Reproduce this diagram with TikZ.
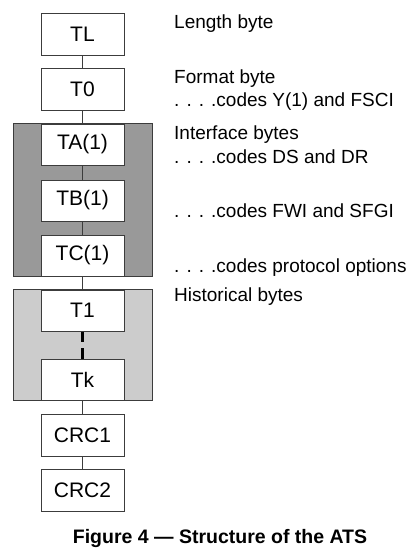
\documentclass[tikz,border=0pt]{standalone}
\usepackage{fontspec}
\setmainfont{Liberation Sans}
\usepackage{xcolor}
\usepackage{tikz}
\usetikzlibrary{calc, backgrounds}
\definecolor{darkband}{RGB}{153,153,153}
\definecolor{lightband}{RGB}{204,204,204}
\definecolor{edgegray}{RGB}{60,60,60}
\tikzset{
  bytebox/.style={draw=edgegray, fill=white, line width=0.9pt, minimum width=83pt, minimum height=42pt, inner sep=0pt, font=\fontsize{21}{21}\selectfont},
  note/.style={anchor=base west, inner sep=0pt, font=\fontsize{19}{19}\selectfont},
  link/.style={draw=edgegray, line width=0.9pt}
}

\begin{document}
\begin{tikzpicture}[x=1pt, y=-1pt]
    \useasboundingbox (0,0) rectangle (412,557);
    \node[bytebox] (TL) at (82.5,34) {TL};
    \node[bytebox] (T0) at (82.5,89.5) {T0};
    \node[bytebox, minimum height=41pt] (TA) at (82.5,144.5) {TA(1)};
    \node[bytebox, minimum height=41pt] (TB) at (82.5,200.5) {TB(1)};
    \node[bytebox, minimum height=41pt] (TC) at (82.5,255.5) {TC(1)};
    \node[bytebox, minimum height=41pt] (T1) at (82.5,310.5) {T1};
    \node[bytebox, minimum height=41pt] (Tk) at (82.5,379.5) {Tk};
    \node[bytebox] (CRC1) at (82.5,435) {CRC1};
    \node[bytebox] (CRC2) at (82.5,490) {CRC2};
    \begin{scope}[on background layer]
        \fill[white] (0,0) rectangle (412,557);
        \fill[darkband, draw=edgegray, line width=0.9pt] ($(TA.north west)+(-27,0)$) rectangle ($(TC.south east)+(28,0)$);
        \fill[lightband, draw=edgegray, line width=0.9pt] ($(T1.north west)+(-27,0)$) rectangle ($(Tk.south east)+(28,0)$);
        \draw[link] (TL) -- (T0);
        \draw[link] (T0) -- (TA);
        \draw[link] (TA) -- (TB);
        \draw[link] (TB) -- (TC);
        \draw[link] (TC) -- (T1);
        \draw[line width=2.5pt, dash pattern=on 11pt off 6pt] (T1.south) -- (Tk.north);
        \draw[link] (Tk) -- (CRC1);
        \draw[link] (CRC1) -- (CRC2);
    \end{scope}
    \node[note] (lenL) at (174,28) {Length byte};
    \node[note] (fmtL) at (174,83) {Format byte};
    \node[note] (fmtC) at (174,106) {. . . .codes Y(1) and FSCI};
    \node[note] (ifL) at (174,139) {Interface bytes};
    \node[note] (taC) at (174,163) {. . . .codes DS and DR};
    \node[note] (tbC) at (174,217) {. . . .codes FWI and SFGI};
    \node[note] (tcC) at (174,272) {. . . .codes protocol options};
    \node[note] (histL) at (174,301) {Historical bytes};
    \node[anchor=base, inner sep=0pt, font=\fontsize{19.5}{19.5}\selectfont\bfseries] (caption) at (220,543) {Figure 4 — Structure of the ATS};
\end{tikzpicture}
\end{document}
